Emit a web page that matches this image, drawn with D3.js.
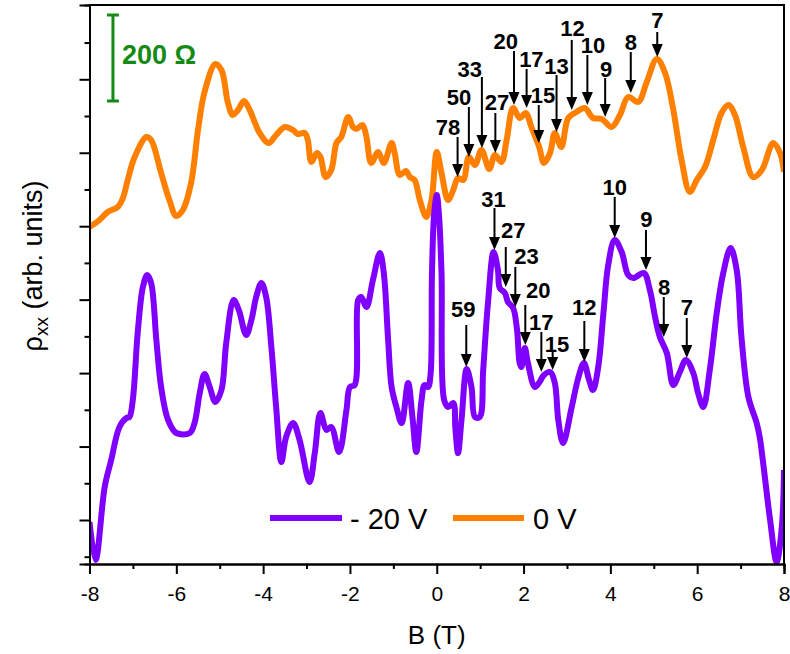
<!DOCTYPE html>
<html>
<head>
<meta charset="utf-8">
<script src="https://cdn.jsdelivr.net/npm/d3@7"></script>
<style>
  body { margin: 0; background: #fff; }
  svg { display: block; font-family: "Liberation Sans", Arial, sans-serif; }
</style>
</head>
<body>
<div id="chart"></div>
<script>
// field values B (T) and rho_xx in arbitrary units
const orangeB = [-8, -7.77, -7.58, -7.35, -7.23, -7.12, -6.96, -6.69, -6.58, -6.35, -6.16, -6.0, -5.85, -5.66, -5.5, -5.35, -5.1, -4.96, -4.81, -4.7, -4.58, -4.44, -4.31, -4.08, -3.87, -3.70, -3.50, -3.31, -3.20, -3.04, -2.97, -2.89, -2.76, -2.68, -2.56, -2.43, -2.31, -2.20, -2.04, -1.93, -1.85, -1.71, -1.62, -1.51, -1.35, -1.22, -1.04, -0.97, -0.85, -0.71, -0.62, -0.51, -0.39, -0.24, -0.12, 0.0, 0.11, 0.26, 0.38, 0.49, 0.61, 0.74, 0.88, 1.03, 1.21, 1.34, 1.49, 1.61, 1.76, 1.91, 2.05, 2.18, 2.36, 2.47, 2.61, 2.72, 2.87, 3.03, 3.22, 3.41, 3.6, 3.80, 4.03, 4.22, 4.41, 4.64, 4.83, 5.07, 5.26, 5.45, 5.64, 5.83, 5.99, 6.18, 6.37, 6.56, 6.72, 6.87, 7.06, 7.29, 7.49, 7.75, 7.91, 8.0];
const orangeRho = [33.7, 34.4, 35.2, 35.7, 36.6, 38.4, 40.7, 42.7, 42.4, 39.1, 36.4, 34.8, 35.4, 38.1, 43.4, 47.2, 50.0, 49.4, 46.1, 44.9, 45.4, 46.3, 45.4, 43.1, 42.1, 42.9, 43.7, 43.4, 43.0, 43.1, 42.4, 40.2, 41.1, 40.7, 38.7, 39.4, 42.1, 42.7, 44.7, 43.7, 43.5, 43.9, 42.7, 40.1, 41.2, 40.1, 42.1, 41.1, 38.9, 39.3, 38.7, 38.4, 36.4, 34.7, 36.4, 41.2, 39.1, 36.4, 37.4, 38.6, 38.4, 40.7, 39.9, 41.4, 39.5, 40.9, 40.2, 42.4, 45.6, 44.6, 45.1, 43.7, 41.7, 40.1, 41.1, 43.1, 41.7, 44.6, 45.2, 45.6, 44.6, 44.5, 43.7, 44.9, 46.7, 46.2, 48.1, 50.5, 49.1, 45.4, 40.4, 37.2, 38.4, 39.7, 42.4, 45.1, 45.9, 44.9, 41.7, 38.7, 39.4, 42.1, 41.1, 39.2];

const purpleB = [-8, -7.86, -7.65, -7.5, -7.31, -7.15, -7.08, -7.0, -6.89, -6.77, -6.67, -6.58, -6.46, -6.35, -6.19, -6.0, -5.69, -5.58, -5.46, -5.35, -5.23, -5.10, -4.96, -4.85, -4.68, -4.56, -4.39, -4.27, -4.16, -4.04, -3.93, -3.81, -3.70, -3.58, -3.47, -3.31, -3.16, -2.93, -2.81, -2.68, -2.54, -2.43, -2.25, -2.08, -2.0, -1.89, -1.81, -1.74, -1.62, -1.47, -1.31, -1.22, -1.12, -1.04, -0.93, -0.81, -0.66, -0.56, -0.47, -0.35, -0.28, -0.20, -0.14, -0.11, -0.06, 0.0, 0.05, 0.11, 0.17, 0.26, 0.38, 0.43, 0.49, 0.57, 0.69, 0.80, 0.88, 0.99, 1.07, 1.18, 1.31, 1.41, 1.45, 1.57, 1.64, 1.76, 1.85, 1.91, 1.95, 2.03, 2.10, 2.26, 2.37, 2.47, 2.61, 2.72, 2.80, 2.91, 3.11, 3.26, 3.39, 3.51, 3.60, 3.72, 3.84, 3.95, 4.10, 4.26, 4.41, 4.53, 4.77, 4.91, 5.03, 5.14, 5.30, 5.45, 5.60, 5.74, 5.91, 6.02, 6.14, 6.29, 6.45, 6.60, 6.77, 6.91, 7.02, 7.18, 7.37, 7.44, 7.52, 7.68, 7.83, 7.95, 8.0];
const purpleRho = [4.2, 0.4, 7.7, 10.4, 13.7, 14.6, 14.7, 16.5, 23.1, 27.7, 28.9, 28.1, 22.4, 17.7, 14.4, 13.1, 13.1, 14.1, 17.1, 19.0, 17.7, 16.2, 17.4, 22.1, 26.4, 25.4, 22.9, 24.4, 26.7, 28.1, 26.7, 21.7, 15.7, 10.2, 12.7, 14.1, 12.4, 8.2, 11.1, 15.1, 13.4, 13.7, 11.2, 15.4, 17.7, 17.9, 26.4, 26.7, 25.7, 28.4, 31.1, 29.1, 22.4, 17.7, 15.7, 14.1, 18.1, 14.7, 11.2, 16.4, 17.9, 17.7, 19.1, 29.1, 35.0, 36.9, 35.0, 29.1, 16.4, 15.7, 16.1, 13.5, 11.1, 14.4, 19.5, 17.7, 14.7, 14.7, 19.4, 26.1, 31.2, 29.4, 27.6, 27.1, 26.2, 25.6, 23.4, 20.1, 19.7, 21.6, 20.1, 17.7, 18.2, 18.9, 19.2, 18.1, 14.4, 12.1, 15.7, 18.6, 20.1, 18.4, 17.4, 19.7, 25.1, 29.9, 32.4, 31.2, 28.9, 28.6, 29.1, 27.4, 24.7, 22.7, 21.1, 17.9, 19.2, 20.4, 19.1, 17.1, 15.7, 19.4, 25.1, 29.1, 31.6, 29.4, 22.7, 16.7, 14.1, 12.7, 10.1, 4.4, 0.2, 3.7, 9.4];

// filling-factor labels, arrow positions (B) and arrow tail/tip heights
const orangeLabels = ["78", "50", "33", "27", "20", "17", "15", "13", "12", "10", "9", "8", "7"];
const orangeArrowB = [0.48, 0.74, 1.04, 1.35, 1.78, 2.07, 2.35, 2.76, 3.11, 3.47, 3.88, 4.47, 5.08];
const orangeTail = [42.7, 45.7, 48.7, 45.1, 51.3, 49.5, 45.9, 48.9, 52.4, 50.9, 48.6, 51.2, 53.2];
const orangeTip = [38.7, 40.7, 41.6, 41.1, 45.9, 45.6, 42.1, 43.2, 45.4, 45.9, 44.7, 47.1, 50.7];
const orangeLabelB = [0.26, 0.51, 0.76, 1.39, 1.59, 2.18, 2.45, 2.76, 3.13, 3.60, 3.90, 4.47, 5.08];
const orangeLabelRho = [42.9, 45.9, 48.7, 45.4, 51.5, 49.7, 46.1, 49.0, 52.8, 51.1, 48.7, 51.4, 53.6];

const purpleLabels = ["59", "31", "27", "23", "20", "17", "15", "12", "10", "9", "8", "7"];
const purpleArrowB = [0.68, 1.33, 1.59, 1.81, 2.04, 2.41, 2.67, 3.40, 4.10, 4.82, 5.23, 5.76];
const purpleTail = [23.9, 35.6, 31.7, 29.7, 25.9, 23.2, 21.2, 24.3, 36.7, 33.4, 26.7, 24.6];
const purpleTip = [19.7, 31.4, 27.7, 25.7, 21.9, 19.2, 19.4, 20.2, 32.6, 29.4, 22.7, 20.6];
const purpleLabelB = [0.61, 1.31, 1.76, 2.07, 2.34, 2.41, 2.77, 3.40, 4.10, 4.83, 5.24, 5.76];
const purpleLabelRho = [24.7, 35.7, 32.6, 30.0, 26.6, 23.4, 21.2, 24.9, 36.9, 33.7, 26.9, 24.9];

const xTicks = [-8, -6, -4, -2, 0, 2, 4, 6, 8];
const xMinorTicks = [-7, -5, -3, -1, 1, 3, 5, 7];
const seriesNames = ["- 20 V", "0 V"];
const scaleBarLabel = "200 \u03A9";

const width = 790, height = 654;
const margin = { top: 5, right: 6, bottom: 90, left: 89.5 };
const purple = "#8000ff", orange = "#ff8000", green = "#158a15";

const svg = d3.select("#chart").append("svg")
  .attr("width", width)
  .attr("height", height);

const x = d3.scaleLinear().domain([-8, 8]).range([margin.left, width - margin.right]);
const y = d3.scaleLinear().domain([0, 55.9]).range([height - margin.bottom, margin.top]);

// clip lines to the frame
svg.append("clipPath").attr("id", "plot")
  .append("rect")
  .attr("x", x(-8)).attr("y", y(55.9))
  .attr("width", x(8) - x(-8)).attr("height", y(0) - y(55.9));

const line = d3.line()
  .x((d) => x(d[0]))
  .y((d) => y(d[1]))
  .curve(d3.curveCatmullRom.alpha(0.5));

const purpleData = d3.zip(purpleB, purpleRho);
const orangeData = d3.zip(orangeB, orangeRho);

svg.append("path")
  .datum(orangeData)
  .attr("clip-path", "url(#plot)")
  .attr("fill", "none")
  .attr("stroke", orange)
  .attr("stroke-width", 6)
  .attr("stroke-linejoin", "round")
  .attr("d", line);

svg.append("path")
  .datum(purpleData)
  .attr("clip-path", "url(#plot)")
  .attr("fill", "none")
  .attr("stroke", purple)
  .attr("stroke-width", 6)
  .attr("stroke-linejoin", "round")
  .attr("d", line);

// axes
const xAxis = svg.append("g")
  .attr("transform", `translate(0,${y(0)})`)
  .call(d3.axisBottom(x).tickValues(xTicks).tickSize(10).tickPadding(12)
    .tickFormat((d) => String(d)));
xAxis.selectAll("text").attr("font-size", 21).attr("font-family", null).attr("fill", "#000");

svg.append("g")
  .attr("transform", `translate(0,${y(0)})`)
  .call(d3.axisBottom(x).tickValues(xMinorTicks).tickSize(5).tickFormat(""));

const yMajor = d3.range(4.4, 55, 7.345);
const yMinor = d3.range(0.73, 55, 7.345);
svg.append("g")
  .attr("transform", `translate(${x(-8)},0)`)
  .call(d3.axisLeft(y).tickValues(yMajor).tickSize(10).tickFormat(""));
svg.append("g")
  .attr("transform", `translate(${x(-8)},0)`)
  .call(d3.axisLeft(y).tickValues(yMinor).tickSize(5).tickFormat(""));

svg.selectAll(".domain").attr("stroke", "#000").attr("stroke-width", 2);
svg.selectAll(".tick line").attr("stroke", "#000").attr("stroke-width", 2);

// top and right frame lines
svg.append("path")
  .attr("fill", "none")
  .attr("stroke", "#000")
  .attr("stroke-width", 2)
  .attr("d", `M${x(-8)},${y(55.9)}H${x(8)}V${y(0)}`);

// axis titles
svg.append("text")
  .attr("x", x(0))
  .attr("y", 644)
  .attr("text-anchor", "middle")
  .attr("font-size", 26)
  .text("B (T)");

const yTitle = svg.append("text")
  .attr("transform", `translate(42,${y(29.8)}) rotate(-90)`)
  .attr("text-anchor", "middle")
  .attr("font-size", 27);
yTitle.append("tspan").text("\u03C1");
yTitle.append("tspan").attr("font-size", 19).attr("dy", 6).text("xx");
yTitle.append("tspan").attr("dy", -6).text(" (arb. units)");

// arrows with labels
function drawArrows(labels, arrowB, tail, tip, labelB, labelRho) {
  const g = svg.append("g");
  const head = 13;
  labels.forEach((lab, i) => {
    const ax = x(arrowB[i]);
    const yTail = y(tail[i]);
    const yTip = y(tip[i]);
    g.append("line")
      .attr("x1", ax).attr("x2", ax)
      .attr("y1", yTail).attr("y2", yTip - head + 1)
      .attr("stroke", "#000")
      .attr("stroke-width", 2);
    g.append("path")
      .attr("d", `M${ax - 5.5},${yTip - head}L${ax + 5.5},${yTip - head}L${ax},${yTip}Z`)
      .attr("fill", "#000");
    g.append("text")
      .attr("x", x(labelB[i]))
      .attr("y", y(labelRho[i]))
      .attr("text-anchor", "middle")
      .attr("font-size", 22)
      .attr("font-weight", "bold")
      .text(lab);
  });
}
drawArrows(orangeLabels, orangeArrowB, orangeTail, orangeTip, orangeLabelB, orangeLabelRho);
drawArrows(purpleLabels, purpleArrowB, purpleTail, purpleTip, purpleLabelB, purpleLabelRho);

// 200 ohm scale bar
const barX = x(-7.46);
const bar = svg.append("g").attr("stroke", green).attr("stroke-width", 3);
bar.append("line").attr("x1", barX).attr("x2", barX).attr("y1", y(54.9)).attr("y2", y(46.3));
bar.append("line").attr("x1", barX - 6).attr("x2", barX + 6).attr("y1", y(54.9)).attr("y2", y(54.9));
bar.append("line").attr("x1", barX - 6).attr("x2", barX + 6).attr("y1", y(46.3)).attr("y2", y(46.3));
svg.append("text")
  .attr("x", barX + 9)
  .attr("y", 63.5)
  .attr("fill", green)
  .attr("font-size", 27)
  .attr("font-weight", "bold")
  .text(scaleBarLabel);

// legend
const legend = svg.append("g").attr("transform", "translate(0,518)");
const legendItems = [
  { name: seriesNames[0], color: purple, x0: 270, x1: 342, tx: 350 },
  { name: seriesNames[1], color: orange, x0: 453, x1: 524, tx: 533 },
];
legendItems.forEach((d) => {
  legend.append("line")
    .attr("x1", d.x0).attr("x2", d.x1)
    .attr("y1", 0).attr("y2", 0)
    .attr("stroke", d.color)
    .attr("stroke-width", 6);
  legend.append("text")
    .attr("x", d.tx)
    .attr("y", 11)
    .attr("font-size", 29)
    .text(d.name);
});
</script>
</body>
</html>
